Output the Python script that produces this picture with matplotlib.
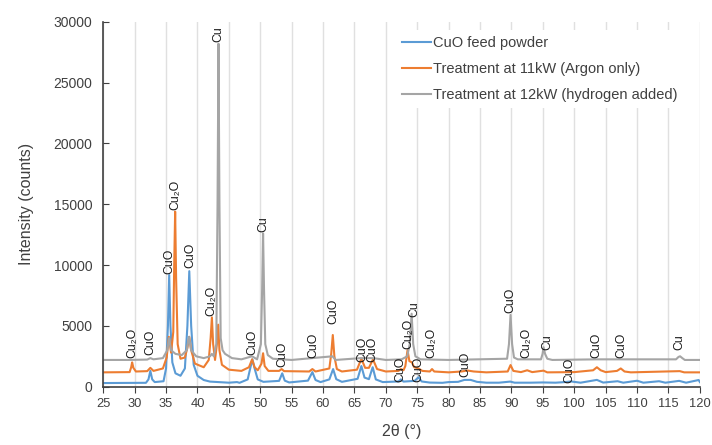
import matplotlib
matplotlib.use("Agg")
import matplotlib.pyplot as plt

plt.rcParams['font.family'] = ['Liberation Sans', 'DejaVu Sans']

# ---- data (2theta in degrees, intensity in counts) ----
feed_tt = [25, 28, 31.8, 32.2, 32.5, 32.8, 33.2, 34.6, 35.0, 35.3, 35.5, 35.7, 36.0, 36.5, 37.3,
           38.0, 38.4, 38.7, 39.0, 39.4, 40.0, 41.0, 42.0, 45.0, 46.3, 46.7, 48.0, 48.4, 48.75, 49.1,
           49.6, 50.5, 53.0, 53.5, 53.9, 54.6, 57.6, 58.3, 58.8, 59.6, 61.0, 61.6, 62.1, 63.0, 65.5,
           66.1, 66.6, 67.3, 67.9, 68.4, 69.5, 72.0, 72.4, 72.8, 74.6, 75.2, 75.7, 77.0, 79.0, 80.0,
           81.5, 82.5, 83.5, 84.5, 86.0, 88.0, 89.8, 90.5, 93.0, 95.0, 97.0, 98.5, 99.5, 101.0,
           103.6, 104.6, 106.9, 107.8, 110.0, 111.0, 113.5, 114.5, 116.7, 117.8, 119.8, 120]
feed_ct = [300, 310, 320, 600, 1300, 600, 380, 450, 1500, 5000, 9180, 5000, 2000, 1100, 900,
           1500, 5000, 9500, 5000, 1800, 900, 550, 420, 330, 380, 320, 600, 1500, 2250, 1500,
           600, 400, 480, 1100, 500, 350, 500, 1200, 550, 380, 600, 1450, 620, 400, 650,
           1700, 750, 620, 1600, 600, 380, 430, 600, 420, 480, 780, 430, 340, 320, 380,
           400, 560, 560, 400, 330, 330, 420, 330, 330, 350, 330, 380, 430, 330,
           560, 340, 450, 330, 490, 330, 450, 330, 480, 330, 550, 380]

argon_tt = [25, 29.2, 29.45, 29.6, 29.8, 30.2, 32.0, 32.5, 33.0, 34.5, 35.1, 35.45, 35.8, 36.15,
            36.3, 36.45, 36.6, 36.85, 37.3, 38.0, 38.4, 38.7, 39.0, 39.6, 41.0, 41.8, 42.1, 42.3,
            42.5, 42.8, 43.1, 43.3, 43.5, 43.9, 45.0, 47.0, 48.2, 48.7, 49.1, 49.6, 50.2, 50.45,
            50.7, 51.3, 53.0, 53.4, 53.8, 57.8, 58.3, 58.8, 61.0, 61.3, 61.55, 61.8, 62.2, 63.0,
            65.4, 66.1, 66.7, 67.3, 67.95, 68.6, 70.0, 72.0, 72.4, 72.8, 73.1, 73.45, 73.75, 74.15,
            74.5, 75.2, 75.8, 77.0, 77.35, 77.7, 80.0, 82.0, 83.0, 84.0, 86.0, 89.4, 89.85, 90.3,
            91.5, 92.5, 93.3, 95.1, 95.7, 100.0, 103.0, 103.6, 104.2, 105.0, 106.8, 107.4, 108.0,
            109.0, 116.8, 117.5, 120]
argon_ct = [1180, 1200, 1600, 2000, 1550, 1250, 1280, 1550, 1300, 1500, 2400, 4100, 2800, 4500,
            10000, 14400, 9000, 3500, 2300, 2400, 3200, 4100, 3000, 1900, 1600, 2200, 4000, 5700,
            3500, 2200, 3500, 5100, 3000, 1800, 1400, 1300, 1600, 2250, 1600, 1350, 1900, 2750,
            1700, 1300, 1300, 1450, 1280, 1250, 1450, 1250, 1500, 2700, 4250, 2500, 1450, 1250,
            1400, 2300, 1550, 1550, 2250, 1450, 1250, 1300, 1450, 1350, 1700, 3000, 2100, 2000,
            1600, 1500, 1300, 1250, 1450, 1250, 1180, 1250, 1330, 1250, 1180, 1250, 1780, 1300,
            1200, 1350, 1200, 1320, 1180, 1200, 1350, 1600, 1350, 1200, 1300, 1500, 1250,
            1180, 1280, 1180, 1180]

hydro_tt = [25, 29.0, 32.0, 32.5, 33.0, 34.5, 35.2, 35.5, 35.8, 36.5, 37.5, 38.3, 38.65, 39.0,
            39.8, 41.0, 42.0, 42.3, 42.6, 43.0, 43.2, 43.35, 43.5, 43.7, 44.0, 44.4, 45.5, 47.0,
            48.7, 49.5, 50.1, 50.3, 50.45, 50.6, 50.8, 51.2, 52.0, 55.0, 61.5, 62.0, 66.0, 68.0,
            70.0, 72.5, 73.4, 73.8, 74.1, 74.35, 74.7, 75.5, 80.0, 89.3, 89.6, 89.85, 90.1, 90.4,
            91.0, 94.7, 94.95, 95.1, 95.35, 95.7, 96.5, 103.6, 107.4, 116.2, 116.6, 116.85, 117.2,
            117.6, 120]
hydro_ct = [2200, 2200, 2230, 2350, 2250, 2350, 3000, 4000, 3000, 2700, 2600, 3000, 4100, 3000,
            2500, 2350, 2500, 2700, 2500, 3500, 15000, 28200, 15000, 4000, 3000, 2700, 2350, 2250,
            2500, 2250, 3500, 8000, 12600, 8000, 3500, 2600, 2300, 2200, 2500, 2200, 2350, 2350,
            2200, 2250, 2500, 3500, 6000, 3500, 2500, 2250, 2200, 2300, 3500, 5900, 3500, 2400,
            2250, 2250, 2700, 3250, 2700, 2300, 2200, 2250, 2250, 2250, 2450, 2500, 2350,
            2200, 2200]

series_names = ["CuO feed powder", "Treatment at 11kW (Argon only)",
                "Treatment at 12kW (hydrogen added)"]

# peak annotations: position (2theta), bottom of text (counts), phase
ann_tt = [29.6, 32.5, 35.5, 36.5, 38.8, 42.2, 43.4, 48.75, 50.5, 53.5, 58.4, 61.7, 66.2, 67.9,
          72.3, 73.6, 74.6, 75.2, 77.3, 82.6, 89.75, 92.45, 95.7, 99.25, 103.5, 107.5, 116.7]
ann_ct = [2350, 2600, 9300, 14550, 9750, 5800, 28300, 2600, 12700, 1600, 2350, 5140, 2010, 2010,
          370, 3100, 5750, 370, 2350, 780, 6050, 2350, 3000, 290, 2350, 2350, 3000]
ann_txt = ["Cu\u2082O", "CuO", "CuO", "Cu\u2082O", "CuO", "Cu\u2082O", "Cu", "CuO", "Cu", "CuO",
           "CuO", "CuO", "CuO", "CuO", "CuO", "Cu\u2082O", "Cu", "CuO", "Cu\u2082O", "CuO", "CuO",
           "Cu\u2082O", "Cu", "CuO", "CuO", "CuO", "Cu"]

x_ticks = list(range(25, 121, 5))
y_ticks = list(range(0, 30001, 5000))

colors = ["#5B9BD5", "#ED7D31", "#A5A5A5"]

fig = plt.figure(figsize=(7.12, 4.45), dpi=100)
ax = fig.add_axes([0.145, 0.131, 0.838, 0.820])

for tt, ct, name, c in zip([feed_tt, argon_tt, hydro_tt], [feed_ct, argon_ct, hydro_ct],
                           series_names, colors):
    ax.plot(tt, ct, color=c, lw=1.5, label=name, solid_joinstyle='round')

for t, c, s in zip(ann_tt, ann_ct, ann_txt):
    ax.text(t, c, s, rotation=90, ha='center', va='bottom', fontsize=8.8,
            color='#1a1a1a')

ax.set_xlim(25, 120)
ax.set_ylim(0, 30000)
ax.set_xticks(x_ticks)
ax.set_yticks(y_ticks)
ax.grid(axis='x', color='#e0e0e0', lw=1)
ax.set_axisbelow(True)
for s in ['top', 'right']:
    ax.spines[s].set_visible(False)
for s in ['left', 'bottom']:
    ax.spines[s].set_color('#404040')
    ax.spines[s].set_linewidth(1.2)
ax.tick_params(axis='y', direction='in', length=4, labelsize=10, colors='#404040',
               labelcolor='#404040', pad=8)
ax.tick_params(axis='x', direction='out', length=4, labelsize=9.3, colors='#404040',
               labelcolor='#404040', pad=4)
ax.set_xlabel("2\u03b8 (°)", fontsize=11.5, color='#404040', labelpad=10)
ax.set_ylabel("Intensity (counts)", fontsize=11.5, color='#404040', labelpad=14)

leg = fig.legend(loc='upper left', bbox_to_anchor=(0.556, 0.933), fontsize=10.5,
                 frameon=True, facecolor='white', edgecolor='none', framealpha=1,
                 handlelength=2.0, handletextpad=0.15, labelspacing=0.85, borderpad=0.4,
                 borderaxespad=0)
for t in leg.get_texts():
    t.set_color('#404040')

fig.savefig("out.png", dpi=100)
